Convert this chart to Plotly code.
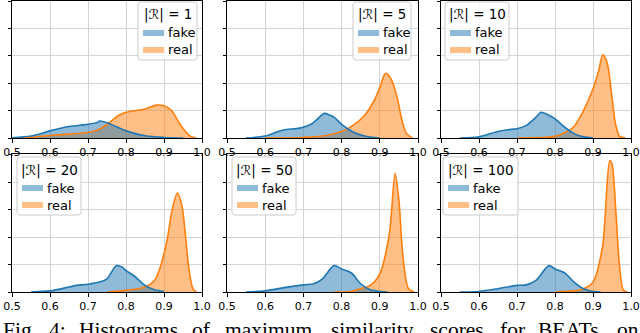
import plotly.graph_objects as go

# |R| values for the six panels
set_sizes = [1, 5, 10, 20, 50, 100]

# density curves (x = max similarity score)
fake_x1 = [0.50, 0.55, 0.60, 0.65, 0.70, 0.725, 0.73, 0.75, 0.80, 0.85, 0.90, 0.95]
fake_y1 = [0.05, 0.35, 1.3, 2.1, 2.5, 2.85, 3.1, 2.8, 1.3, 0.4, 0.1, 0.0]
real_x1 = [0.50, 0.55, 0.60, 0.65, 0.70, 0.73, 0.76, 0.78, 0.80, 0.85, 0.88, 0.90, 0.92, 0.945, 0.97, 0.985]
real_y1 = [0.0, 0.15, 0.45, 0.7, 1.0, 1.6, 3.0, 4.1, 4.7, 5.3, 6.0, 5.9, 5.0, 2.2, 0.3, 0.0]

fake_x2 = [0.55, 0.60, 0.63, 0.65, 0.69, 0.72, 0.75, 0.755, 0.78, 0.80, 0.83, 0.86, 0.90]
fake_y2 = [0.0, 0.36, 1.1, 1.5, 1.8, 2.5, 4.3, 4.5, 3.8, 2.5, 1.1, 0.36, 0.0]
real_x2 = [0.60, 0.70, 0.75, 0.80, 0.83, 0.86, 0.885, 0.90, 0.915, 0.93, 0.945, 0.958, 0.97, 0.985]
real_y2 = [0.0, 0.1, 0.35, 1.2, 2.3, 4.1, 6.8, 9.2, 11.8, 10.7, 7.5, 3.2, 0.8, 0.0]

fake_x3 = [0.55, 0.60, 0.65, 0.675, 0.70, 0.725, 0.75, 0.763, 0.78, 0.80, 0.823, 0.85, 0.875, 0.90]
fake_y3 = [0.0, 0.2, 1.2, 1.5, 1.7, 2.3, 3.8, 4.7, 4.3, 3.5, 2.1, 0.8, 0.2, 0.0]
real_x3 = [0.70, 0.80, 0.83, 0.85, 0.875, 0.90, 0.915, 0.926, 0.937, 0.95, 0.959, 0.97, 0.985]
real_y3 = [0.0, 0.3, 1.1, 2.1, 5.0, 9.0, 12.3, 15.2, 13.8, 7.5, 2.6, 0.3, 0.0]

fake_x4 = [0.55, 0.60, 0.65, 0.67, 0.70, 0.73, 0.75, 0.775, 0.79, 0.80, 0.82, 0.85, 0.875, 0.90]
fake_y4 = [0.0, 0.2, 0.9, 1.2, 1.4, 1.8, 2.4, 4.8, 4.5, 3.9, 3.0, 1.2, 0.4, 0.1]
real_x4 = [0.75, 0.80, 0.85, 0.875, 0.89, 0.908, 0.921, 0.935, 0.947, 0.956, 0.965, 0.976, 0.985]
real_y4 = [0.0, 0.3, 0.9, 2.1, 4.5, 9.4, 14.8, 18.0, 15.8, 10.6, 4.5, 0.6, 0.0]

fake_x5 = [0.55, 0.60, 0.65, 0.70, 0.727, 0.75, 0.78, 0.80, 0.825, 0.85, 0.875, 0.90, 0.92]
fake_y5 = [0.0, 0.2, 0.8, 1.3, 1.5, 2.4, 4.8, 4.2, 3.5, 1.5, 0.4, 0.1, 0.0]
real_x5 = [0.78, 0.825, 0.85, 0.875, 0.90, 0.925, 0.94, 0.95, 0.96, 0.975, 0.99]
real_y5 = [0.0, 0.1, 0.6, 1.2, 3.3, 10.6, 21.6, 16.7, 7.0, 0.6, 0.0]

fake_x6 = [0.55, 0.60, 0.65, 0.70, 0.725, 0.75, 0.784, 0.80, 0.825, 0.85, 0.875, 0.90, 0.92]
fake_y6 = [0.0, 0.1, 0.6, 1.2, 1.3, 2.1, 4.8, 4.2, 3.5, 1.8, 0.6, 0.1, 0.0]
real_x6 = [0.80, 0.85, 0.875, 0.90, 0.925, 0.944, 0.95, 0.96, 0.97, 0.98, 0.99]
real_y6 = [0.0, 0.2, 0.6, 1.8, 8.2, 23.9, 23.3, 14.8, 4.5, 0.3, 0.0]

fake_x = [fake_x1, fake_x2, fake_x3, fake_x4, fake_x5, fake_x6]
fake_y = [fake_y1, fake_y2, fake_y3, fake_y4, fake_y5, fake_y6]
real_x = [real_x1, real_x2, real_x3, real_x4, real_x5, real_x6]
real_y = [real_y1, real_y2, real_y3, real_y4, real_y5, real_y6]

x_ticks = [0.5, 0.6, 0.7, 0.8, 0.9, 1.0]

BLUE = '#1f77b4'
ORANGE = '#ff7f0e'
BLUE_FILL = 'rgba(31,119,180,0.5)'
ORANGE_FILL = 'rgba(255,127,14,0.5)'

W, H = 640, 333
# panel boxes in pixels (left, right) and (top, bottom)
cols = [(12, 202), (227, 418), (441, 631)]
rows = [(0.5, 138), (154, 292)]
# legend boxes in pixels (left, top, right)
legend_box = [(138, 2, 197), (353, 2, 411), (445, 2, 509),
              (17, 157, 81), (232, 157, 296), (443, 157, 518)]


def px(x):
    return x / W


def py(y):
    return 1 - y / H


fig = go.Figure()
layout = {}
shapes = []
annotations = []

for i in range(6):
    n = '' if i == 0 else str(i + 1)
    xa, ya = 'x' + n, 'y' + n
    c0, c1 = cols[i % 3]
    r0, r1 = rows[i // 3]

    fig.add_trace(go.Scatter(x=real_x[i], y=real_y[i], xaxis=xa, yaxis=ya,
                             mode='lines', fill='tozeroy', fillcolor=ORANGE_FILL,
                             line=dict(width=0, shape='spline', smoothing=0.8),
                             name='real', showlegend=False, hoverinfo='skip'))
    fig.add_trace(go.Scatter(x=fake_x[i], y=fake_y[i], xaxis=xa, yaxis=ya,
                             mode='lines', fill='tozeroy', fillcolor=BLUE_FILL,
                             line=dict(width=0, shape='spline', smoothing=0.8),
                             name='fake', showlegend=False, hoverinfo='skip'))
    fig.add_trace(go.Scatter(x=real_x[i], y=real_y[i], xaxis=xa, yaxis=ya, name='real',
                             mode='lines', line=dict(color=ORANGE, width=1.6, shape='spline', smoothing=0.8),
                             showlegend=False))
    fig.add_trace(go.Scatter(x=fake_x[i], y=fake_y[i], xaxis=xa, yaxis=ya, name='fake',
                             mode='lines', line=dict(color=BLUE, width=1.6, shape='spline', smoothing=0.8),
                             showlegend=False))

    layout['xaxis' + n] = dict(domain=[px(c0), px(c1)], anchor=ya, range=[0.5, 1.0],
                               tickvals=x_ticks, tickformat='.1f', showgrid=True,
                               gridcolor='#d4d4d4', gridwidth=1, zeroline=False, automargin=False,
                               showline=True, linecolor='black', linewidth=1, mirror=True,
                               ticks='outside', ticklen=3.5, tickcolor='black',
                               tickfont=dict(family='DejaVu Sans', size=11, color='black'))
    layout['yaxis' + n] = dict(domain=[py(r1), py(r0)], anchor=xa, range=[0, 25.1],
                               dtick=5, showticklabels=False, showgrid=True,
                               gridcolor='#d4d4d4', gridwidth=1, zeroline=False, automargin=False,
                               showline=True, linecolor='black', linewidth=1, mirror=True,
                               ticks='outside', ticklen=3.5, tickcolor='black')

    # legend drawn by hand: rounded box, title, two patches with labels
    bl, bt, br = legend_box[i]
    bb = bt + 58
    rr = 3
    path = ('M %f,%f L %f,%f Q %f,%f %f,%f L %f,%f Q %f,%f %f,%f L %f,%f Q %f,%f %f,%f L %f,%f Q %f,%f %f,%f Z' % (
        px(bl + rr), py(bt), px(br - rr), py(bt), px(br), py(bt), px(br), py(bt + rr),
        px(br), py(bb - rr), px(br), py(bb), px(br - rr), py(bb),
        px(bl + rr), py(bb), px(bl), py(bb), px(bl), py(bb - rr),
        px(bl), py(bt + rr), px(bl), py(bt), px(bl + rr), py(bt)))
    shapes.append(dict(type='path', path=path, xref='paper', yref='paper',
                       fillcolor='rgba(255,255,255,0.8)', line=dict(color='#cccccc', width=1),
                       layer='above'))
    annotations.append(dict(text='|ℛ| = %d' % set_sizes[i], x=px((bl + br) / 2), y=py(bt + 13),
                            xref='paper', yref='paper', xanchor='center', yanchor='middle',
                            showarrow=False, font=dict(family='DejaVu Sans', size=13.5, color='black')))
    for label, fc, yc in (('fake', BLUE_FILL, bt + 31), ('real', ORANGE_FILL, bt + 48)):
        shapes.append(dict(type='rect', xref='paper', yref='paper',
                           x0=px(bl + 5), x1=px(bl + 26), y0=py(yc - 3), y1=py(yc + 3),
                           fillcolor=fc, line=dict(width=0), layer='above'))
        annotations.append(dict(text=label, x=px(bl + 28), y=py(yc), xref='paper', yref='paper',
                                xanchor='left', yanchor='middle', showarrow=False,
                                font=dict(family='DejaVu Sans', size=13, color='black')))

# caption, cut off at the bottom edge as in the reference
caption_words = ['Fig.', '4:', 'Histograms', 'of', 'maximum', 'similarity', 'scores', 'for', 'BEATs', 'on']
caption_x = [1, 47, 77, 190, 223, 329, 428, 498, 536, 615]
for word, x0 in zip(caption_words, caption_x):
    annotations.append(dict(text=word, x=px(x0), y=py(330), xref='paper', yref='paper',
                            xanchor='left', yanchor='middle', showarrow=False,
                            font=dict(family='Liberation Serif', size=21.5, color='black')))

fig.update_layout(width=W, height=H, margin=dict(l=0, r=0, t=0, b=0),
                  paper_bgcolor='white', plot_bgcolor='white', showlegend=False,
                  shapes=shapes, annotations=annotations, **layout)

# drop the page's default body margin so the figure sits at the window corner
fig.write_html("out.html", config={'displayModeBar': False},
               post_script="document.body.style.margin = '0';")
